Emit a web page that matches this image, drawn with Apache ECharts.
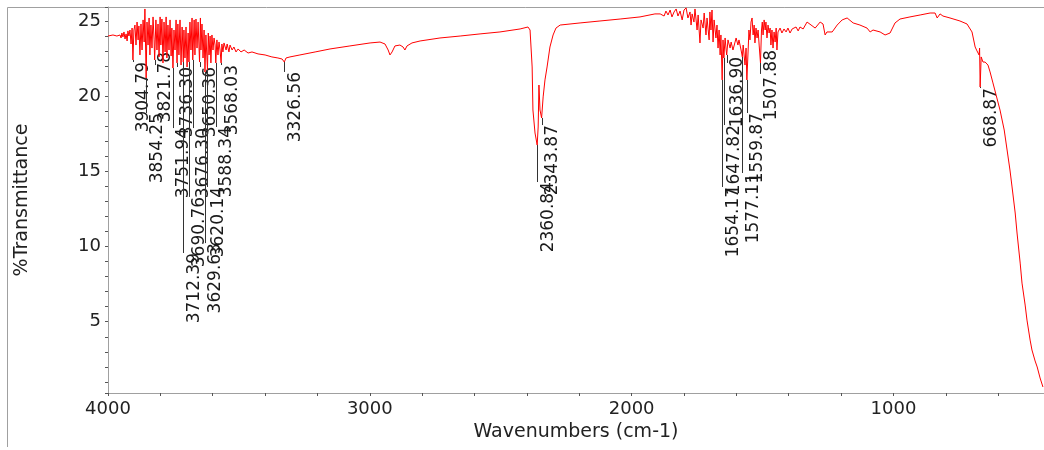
<!DOCTYPE html>
<html>
<head>
<meta charset="utf-8">
<title>IR spectrum</title>
<script src="https://cdn.jsdelivr.net/npm/echarts@6/dist/echarts.min.js"></script>
<style>
  html, body { margin: 0; padding: 0; background: #fff; }
  #chart { width: 1044px; height: 450px; }
</style>
</head>
<body>
<div id="chart"></div>
<script>
// spectrum (cm-1 / %T)
const wavenumbers = [
  4000, 3981, 3966, 3954, 3950, 3947, 3943, 3939, 3935, 3931, 3927, 3924, 3920, 3916, 3912, 3908,
  3904.8, 3901, 3897, 3893, 3889, 3885, 3882, 3878, 3874, 3870, 3866, 3862, 3859, 3854.3, 3851, 3847,
  3843, 3840, 3836, 3832, 3828, 3824, 3821.8, 3817, 3813, 3809, 3805, 3801, 3798, 3794, 3790, 3786,
  3782, 3778, 3775, 3771, 3767, 3763, 3759, 3756, 3751.9, 3748, 3744, 3740, 3736.3, 3733, 3729, 3725,
  3721, 3717, 3712.4, 3710, 3706, 3702, 3698, 3694, 3690.8, 3687, 3683, 3679, 3676.3, 3671, 3668, 3664,
  3660, 3656, 3650.4, 3647, 3645, 3641, 3637, 3633, 3629.6, 3626, 3620.1, 3617, 3614, 3610, 3607, 3603,
  3599, 3595, 3591, 3588.3, 3584, 3580, 3576, 3572, 3568.0, 3565, 3561, 3557, 3549, 3545, 3538, 3534,
  3526, 3519, 3511, 3503, 3492, 3480, 3465, 3450, 3427, 3400, 3374, 3351, 3335, 3326.6, 3320, 3305,
  3267, 3209, 3152, 3076, 2999, 2961, 2942, 2930, 2923, 2915, 2904, 2885, 2873, 2866, 2858, 2839,
  2808, 2732, 2655, 2579, 2503, 2426, 2396, 2388, 2380, 2377, 2369, 2360.8, 2357, 2354, 2350, 2343.9,
  2338, 2331, 2323, 2312, 2300, 2289, 2273, 2197, 2121, 2044, 1968, 1911, 1891, 1884, 1876, 1869,
  1861, 1853, 1846, 1838, 1830, 1823, 1815, 1807, 1800, 1792, 1785, 1777, 1773, 1769, 1762, 1758,
  1750, 1746, 1739, 1735, 1727, 1723, 1716, 1712, 1704, 1701, 1697, 1693, 1689, 1685, 1678, 1674,
  1670, 1666, 1662, 1659, 1654.2, 1651, 1647.8, 1643, 1639, 1636.9, 1632, 1624, 1620, 1613, 1605, 1601,
  1594, 1590, 1582, 1577.1, 1574, 1567, 1563, 1559.9, 1555, 1552, 1548, 1544, 1540, 1536, 1532, 1529,
  1525, 1521, 1517, 1513, 1507.9, 1504, 1501, 1498, 1494, 1490, 1487, 1483, 1479, 1475, 1471, 1468,
  1464, 1460, 1456, 1452, 1448, 1445, 1441, 1433, 1426, 1418, 1410, 1403, 1395, 1387, 1380, 1372,
  1364, 1357, 1345, 1330, 1299, 1280, 1269, 1261, 1254, 1234, 1215, 1196, 1177, 1154, 1128, 1101,
  1089, 1078, 1051, 1032, 1013, 994, 975, 937, 898, 860, 841, 833, 822, 811, 784, 746,
  719, 700, 688, 681, 673, 671, 668.9, 665, 658, 650, 639, 631, 620, 608, 593, 577,
  566, 555, 547, 535, 528, 516, 509, 497, 490, 478, 471, 459, 451, 440, 429
];
const transmittance = [
  24.00, 24.07, 24.00, 24.07, 23.87, 24.20, 23.94, 24.27, 23.80, 24.14, 23.67, 24.34, 24.00, 24.40, 23.47, 24.53,
  22.41, 24.40, 24.73, 23.40, 24.93, 23.74, 24.67, 22.74, 24.80, 23.07, 25.07, 23.60, 25.80, 21.21, 24.93, 23.40,
  25.20, 22.74, 24.73, 23.20, 25.27, 23.74, 22.41, 25.07, 23.07, 24.80, 22.61, 25.27, 23.40, 25.13, 22.21, 24.93,
  22.94, 25.27, 22.54, 24.73, 23.07, 25.07, 22.67, 24.53, 21.87, 24.40, 23.07, 25.07, 22.21, 24.80, 22.74, 25.07,
  22.07, 24.60, 22.27, 24.40, 22.54, 24.60, 21.94, 24.20, 22.27, 24.93, 23.07, 25.20, 22.41, 25.07, 22.74, 25.13,
  23.20, 24.93, 22.27, 25.20, 23.07, 24.80, 22.54, 24.40, 21.61, 24.07, 21.74, 24.20, 22.74, 24.00, 22.21, 24.07,
  23.07, 23.87, 23.40, 22.21, 23.74, 22.74, 23.60, 23.07, 22.21, 23.47, 22.94, 23.54, 23.07, 23.47, 22.94, 23.40,
  23.07, 23.27, 22.94, 23.14, 22.94, 23.07, 22.87, 22.94, 22.81, 22.74, 22.61, 22.54, 22.47, 22.27, 22.54, 22.61,
  22.74, 22.94, 23.14, 23.34, 23.54, 23.60, 23.47, 23.07, 22.74, 22.94, 23.34, 23.40, 23.27, 23.07, 23.34, 23.54,
  23.67, 23.87, 24.00, 24.14, 24.27, 24.47, 24.60, 24.40, 21.94, 19.08, 17.55, 16.75, 17.95, 20.74, 19.08, 18.55,
  19.95, 21.08, 21.94, 23.27, 24.07, 24.53, 24.73, 24.87, 25.00, 25.13, 25.27, 25.47, 25.47, 25.60, 25.33, 25.66,
  25.40, 25.73, 25.27, 25.60, 25.80, 25.33, 25.66, 25.07, 25.73, 25.87, 25.20, 25.60, 24.73, 25.47, 24.93, 25.80,
  24.40, 25.40, 23.54, 25.07, 24.53, 25.53, 24.07, 25.20, 23.74, 25.60, 24.40, 25.73, 23.60, 25.07, 23.87, 24.73,
  23.20, 24.40, 22.74, 24.07, 21.08, 23.74, 22.54, 23.87, 23.07, 22.74, 23.74, 23.20, 23.60, 23.07, 23.60, 23.87,
  23.40, 23.74, 23.07, 22.61, 23.40, 22.07, 23.20, 21.08, 23.07, 24.40, 23.74, 24.93, 25.20, 24.07, 24.73, 23.54,
  24.53, 23.87, 24.40, 23.40, 22.21, 24.40, 24.93, 24.07, 25.07, 24.40, 24.93, 23.87, 24.73, 24.20, 24.53, 23.40,
  24.40, 23.20, 24.27, 23.60, 24.53, 23.07, 24.27, 24.53, 24.20, 24.47, 24.27, 24.53, 24.20, 24.47, 24.34, 24.60,
  24.34, 24.60, 24.47, 24.93, 24.53, 24.93, 24.80, 24.07, 24.27, 24.27, 24.73, 25.07, 25.20, 24.87, 24.73, 24.53,
  24.27, 24.40, 24.27, 24.07, 24.20, 24.87, 25.13, 25.27, 25.40, 25.53, 25.53, 25.20, 25.47, 25.33, 25.20, 25.00,
  24.80, 24.27, 23.27, 23.01, 22.74, 23.20, 20.61, 22.61, 22.27, 22.27, 22.07, 21.61, 20.88, 20.08, 19.08, 17.75,
  16.42, 15.09, 13.96, 12.23, 10.90, 8.90, 7.57, 6.11, 5.11, 3.78, 3.12, 2.39, 1.99, 1.26, 0.66
];

// peak labels: position, line from / to (%T), top of the text (%T)
const peakPositions = [3904.79, 3854.25, 3821.78, 3751.94, 3736.30, 3712.39, 3690.76, 3676.30, 3650.36,
  3629.63, 3620.14, 3588.34, 3568.03, 3326.56, 2360.84, 2343.87, 1654.17, 1647.82, 1636.90, 1577.11,
  1559.87, 1507.88, 668.87];
const peakLineTop = [22.41, 21.21, 22.41, 21.87, 22.21, 22.27, 22.27, 22.41, 22.27,
  21.61, 21.74, 22.21, 22.21, 22.27, 16.75, 18.55, 21.08, 22.54, 22.74, 22.61,
  21.08, 22.21, 20.61];
const peakLineBottom = [22.27, 18.88, 22.07, 17.88, 21.94, 9.57, 13.30, 17.88, 21.94,
  10.23, 13.96, 17.95, 22.07, 21.61, 14.29, 18.08, 13.96, 18.08, 22.21, 14.89,
  18.88, 21.48, 20.54];
const peakTextTop = [22.27, 18.88, 22.94, 17.88, 21.94, 9.57, 13.30, 17.88, 21.94,
  10.23, 13.96, 17.95, 22.07, 21.61, 14.29, 18.08, 13.96, 18.08, 22.61, 14.89,
  18.88, 23.07, 20.54];

const xTicks = [4000, 3000, 2000, 1000];
const yTicks = [5, 10, 15, 20, 25];

const chart = echarts.init(document.getElementById('chart'));

const font = 'DejaVu Sans';
const spectrum = wavenumbers.map((w, i) => [w, transmittance[i]]);
const peaks = peakPositions.map((w, i) => [w, peakLineTop[i], peakLineBottom[i], peakTextTop[i]]);

const option = {
  animation: false,
  backgroundColor: '#fff',
  grid: { left: 108, top: 7, right: 0, bottom: 57, containLabel: false, outerBoundsMode: 'none' },
  xAxis: {
    type: 'value',
    inverse: true,
    min: 425,
    max: 4000,
    splitNumber: 18,
    name: 'Wavenumbers (cm-1)',
    nameLocation: 'middle',
    nameGap: 30,
    nameTextStyle: { fontFamily: font, fontSize: 19, color: '#222' },
    axisLine: { show: true, lineStyle: { color: '#a0a0a0', width: 1 } },
    axisTick: { show: true, length: 3, lineStyle: { color: '#555' } },
    axisLabel: {
      fontFamily: font, fontSize: 18, color: '#222', margin: 7,
      formatter: v => xTicks.includes(v) ? String(v) : ''
    },
    splitLine: { show: false }
  },
  yAxis: {
    type: 'value',
    min: 0.26,
    max: 25.93,
    splitNumber: 25,
    name: '%Transmittance',
    nameLocation: 'middle',
    nameGap: 76,
    nameRotate: 90,
    nameTextStyle: { fontFamily: font, fontSize: 19, color: '#222' },
    axisLine: { show: true, lineStyle: { color: '#a0a0a0', width: 1 } },
    axisTick: { show: true, length: 3, lineStyle: { color: '#555' } },
    axisLabel: {
      fontFamily: font, fontSize: 18, color: '#222', margin: 7,
      formatter: v => yTicks.includes(v) ? String(v) : ''
    },
    splitLine: { show: false }
  },
  graphic: [
    // outer frame of the picture
    { type: 'line', silent: true, shape: { x1: 7.5, y1: 7.5, x2: 1044, y2: 7.5 },
      style: { stroke: '#a0a0a0', lineWidth: 1 } },
    { type: 'line', silent: true, shape: { x1: 7.5, y1: 7.5, x2: 7.5, y2: 447 },
      style: { stroke: '#a0a0a0', lineWidth: 1 } }
  ],
  series: [
    {
      name: 'peaks',
      type: 'custom',
      z: 1,
      data: peaks,
      encode: { x: 0, y: [1, 2, 3] },
      renderItem: function (params, api) {
        const w = api.value(0);
        const a = api.coord([w, api.value(1)]);
        const b = api.coord([w, api.value(2)]);
        const t = api.coord([w, api.value(3)]);
        const x = Math.round(a[0]) + 0.5;
        return {
          type: 'group',
          children: [
            { type: 'line', shape: { x1: x, y1: a[1], x2: x, y2: b[1] },
              style: { stroke: '#333', lineWidth: 1 } },
            { type: 'text', x: t[0] + 11, y: t[1], rotation: Math.PI / 2,
              style: {
                text: peakPositions[params.dataIndex].toFixed(2),
                fill: '#1a1a1a',
                font: '17px "DejaVu Sans"',
                align: 'right', verticalAlign: 'middle',
                textAlign: 'right', textVerticalAlign: 'middle'
              } }
          ]
        };
      }
    },
    {
      name: 'spectrum',
      type: 'line',
      z: 2,
      data: spectrum,
      showSymbol: false,
      symbol: 'none',
      lineStyle: { color: '#ff0000', width: 1 },
      itemStyle: { color: '#ff0000' }
    }
  ]
};

chart.setOption(option);
</script>
</body>
</html>
